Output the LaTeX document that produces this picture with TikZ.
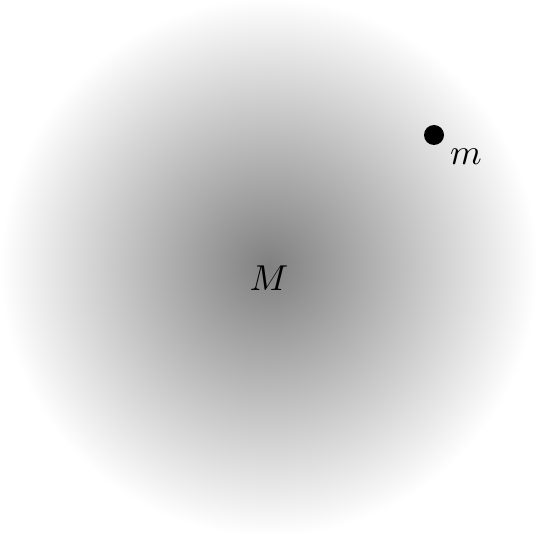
\documentclass[tikz,border=0pt]{standalone}
\begin{document}
\begin{tikzpicture}[x=1pt,y=-1pt,
  lbl/.style={scale=3.6, inner sep=0pt},
  mass/.style={circle, fill=black, draw=none, minimum size=20pt, inner sep=0pt}]
\useasboundingbox (0,0) rectangle (538,534);
\shade[shading=radial, inner color=gray, outer color=white, draw=none] (269,267) circle (269);
\node[lbl] (Mlabel) at (269,278) {$M$};
\node[mass] (dot) at (434,135) {};
\node[lbl] (mlabel) at (466,157) {$m$};
\end{tikzpicture}
\end{document}
